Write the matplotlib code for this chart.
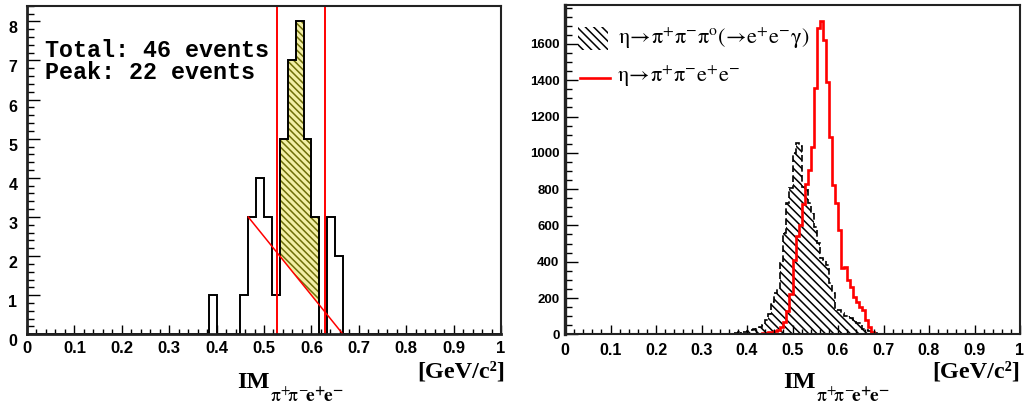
import numpy as np
import matplotlib
matplotlib.use("Agg")
import matplotlib.pyplot as plt
from matplotlib.patches import Rectangle
from matplotlib.lines import Line2D
from matplotlib.ticker import MultipleLocator

plt.rcParams['mathtext.fontset'] = 'stix'
plt.rcParams['font.family'] = ['Liberation Sans', 'DejaVu Sans']
plt.rcParams['hatch.linewidth'] = 1.1

# ---- data -------------------------------------------------------------
# left: measured pi+ pi- e+ e- invariant mass, 60 bins on [0, 1] GeV/c^2
left_counts = [0] * 23 + [1, 0, 0, 0, 1, 3, 4, 3, 1, 5, 7, 8, 5, 3, 0, 3, 2] + [0] * 20
peak_window = (0.528, 0.628)          # signal window (red vertical lines)
peak_bins = (32, 37)                  # bins counted as peak
bg_start = (0.4667, 3.0)              # linear background under the peak
bg_end = (0.6667, 0.0)
total_events = 46
peak_events = 22

# right: simulated shapes, 150 bins on [0, 1] GeV/c^2
dalitz_counts = [0] * 55 + [
    8, 5, 12, 10, 15, 20, 25, 30, 35, 40,
    50, 79, 110, 180, 230, 250, 392, 556, 722, 806,
    1000, 1052, 1040, 813, 800, 722, 666, 593, 503, 420,
    409, 380, 282, 227, 134, 134, 120, 100, 100, 90,
    80, 62, 60, 30, 24, 20, 8, 5, 3] + [0] * 46
signal_counts = [0] * 60 + [
    2, 2, 3, 3, 4, 5, 7, 10, 13, 18,
    25, 40, 70, 130, 220, 410, 540, 600, 720, 830,
    905, 1034, 1355, 1686, 1728, 1621, 1392, 1089, 823, 721,
    575, 364, 370, 299, 262, 207, 180, 152, 134, 79,
    42, 10, 3] + [0] * 47

x_ticks = [0, 0.1, 0.2, 0.3, 0.4, 0.5, 0.6, 0.7, 0.8, 0.9, 1]
x_ticklabels = ['0', '0.1', '0.2', '0.3', '0.4', '0.5', '0.6', '0.7', '0.8', '0.9', '1']
left_yticks = [0, 1, 2, 3, 4, 5, 6, 7, 8]
right_yticks = [0, 200, 400, 600, 800, 1000, 1200, 1400, 1600]

legend_labels = [r'$\mathrm{\eta\!\rightarrow\!\pi^{+}\pi^{-}\pi^{o}(\!\rightarrow\!e^{+}e^{-}\gamma)}$',
                 r'$\mathrm{\eta\!\rightarrow\!\pi^{+}\pi^{-}e^{+}e^{-}}$']
mass_label = 'IM'
mass_sub = r'$\mathrm{\pi^{+}\!\pi^{-}\!}\mathbf{e^{+}\!e^{-}}$'
unit_label = '[GeV/c²]'

W, H = 1028, 412


def fpx(x, y):
    return x / W, 1 - y / H


fig = plt.figure(figsize=(W / 100, H / 100), dpi=100)
ax1 = fig.add_axes([27 / W, 1 - 334.3 / H, 474 / W, 328.6 / H])
ax2 = fig.add_axes([565 / W, 1 - 334.3 / H, 455 / W, 329.3 / H])

# ---- left panel -------------------------------------------------------
edges_l = np.linspace(0, 1, len(left_counts) + 1)
counts_l = np.array(left_counts, dtype=float)

# hatched peak area above the linear background
i0, i1 = peak_bins
xs, top = [], []
for i in range(i0, i1):
    xs += [edges_l[i], edges_l[i + 1]]
    top += [counts_l[i], counts_l[i]]
xs = np.array(xs)
slope = (bg_end[1] - bg_start[1]) / (bg_end[0] - bg_start[0])
bottom = bg_start[1] + slope * (xs - bg_start[0])
ax1.fill_between(xs, bottom, top, facecolor='#f3efa6', edgecolor='#6f6f08',
                 hatch='\\\\\\\\\\', linewidth=0)

ax1.stairs(counts_l, edges_l, baseline=0, color='black', linewidth=1.4)
ax1.plot([bg_start[0], bg_end[0]], [bg_start[1], bg_end[1]], color='red', linewidth=1.1)
for xv in peak_window:
    ax1.axvline(xv, color='red', linewidth=1.4)

ax1.set_xlim(0, 1)
ax1.set_ylim(0, 1.05 * max(left_counts))
ax1.set_xticks(x_ticks)
ax1.set_xticklabels(x_ticklabels)
ax1.set_yticks(left_yticks)
ax1.xaxis.set_minor_locator(MultipleLocator(0.02))
ax1.yaxis.set_minor_locator(MultipleLocator(0.2))
ax1.tick_params(which='both', direction='in', top=False, right=False, width=1.0)
ax1.tick_params(axis='y', which='major', length=9.5, pad=7, labelsize=11.5)
ax1.tick_params(axis='y', which='minor', length=5)
ax1.tick_params(axis='x', which='major', length=6.5, pad=5, labelsize=12)
ax1.tick_params(axis='x', which='minor', length=3.5)
for lab in ax1.get_yticklabels():
    lab.set_verticalalignment('top')
for lab in ax1.get_xticklabels() + ax1.get_yticklabels():
    lab.set_fontweight('bold')
ax1.spines['left'].set_linewidth(2.0)
ax1.spines['bottom'].set_linewidth(2.0)
ax1.spines['top'].set_linewidth(1.5)
ax1.spines['right'].set_linewidth(1.5)
for s in ax1.spines.values():
    s.set_color('#222222')

fig.text(*fpx(45, 57), f'Total: {total_events} events', family='Liberation Mono',
         weight='bold', fontsize=16.8, va='baseline', ha='left')
fig.text(*fpx(45, 79), f'Peak: {peak_events} events', family='Liberation Mono',
         weight='bold', fontsize=16.8, va='baseline', ha='left')

# ---- right panel ------------------------------------------------------
edges_r = np.linspace(0, 1, len(signal_counts) + 1)
ax2.stairs(dalitz_counts, edges_r, baseline=0, fill=True, facecolor='white',
           edgecolor='black', hatch='\\\\\\\\', linewidth=1.2, linestyle=(0, (4, 2)))
ax2.stairs(signal_counts, edges_r, baseline=None, color='red', linewidth=1.9)

ax2.set_xlim(0, 1)
ax2.set_ylim(0, 1.05 * max(signal_counts))
ax2.set_xticks(x_ticks)
ax2.set_xticklabels(x_ticklabels)
ax2.set_yticks(right_yticks)
ax2.xaxis.set_minor_locator(MultipleLocator(0.02))
ax2.yaxis.set_minor_locator(MultipleLocator(50))
ax2.tick_params(which='both', direction='in', top=False, right=False, width=1.0)
ax2.tick_params(axis='y', which='major', length=9, pad=4, labelsize=9.5)
ax2.tick_params(axis='y', which='minor', length=5)
ax2.tick_params(axis='x', which='major', length=6.5, pad=6, labelsize=11.5)
ax2.tick_params(axis='x', which='minor', length=3.5)
for lab in ax2.get_xticklabels() + ax2.get_yticklabels():
    lab.set_fontweight('bold')
ax2.spines['left'].set_linewidth(2.4)
ax2.spines['bottom'].set_linewidth(1.5)
ax2.spines['top'].set_linewidth(1.5)
ax2.spines['right'].set_linewidth(1.5)
for s in ax2.spines.values():
    s.set_color('#222222')

# legend
fig.patches.append(Rectangle(fpx(578, 50), 30 / W, 23 / H, transform=fig.transFigure,
                             facecolor='white', edgecolor='black', hatch='\\\\\\\\',
                             linewidth=0))
fig.text(*fpx(618, 38), legend_labels[0], fontsize=16, va='center', ha='left')
fig.lines.append(Line2D([580 / W, 610 / W], [1 - 78 / H, 1 - 78 / H],
                        transform=fig.transFigure, color='red', linewidth=1.9))
fig.text(*fpx(617, 76), legend_labels[1], fontsize=16, va='center', ha='left')

# axis titles: "IM" with a lowered subscript, unit at the right end
for x_im, x_unit in [(237, 505), (783, 1020)]:
    fig.text(*fpx(x_im, 382), mass_label, family='Liberation Serif', weight='bold',
             fontsize=17.5, va='center', ha='left')
    fig.text(*fpx(x_im + 33, 396), mass_sub, fontsize=14, va='center', ha='left')
    fig.text(*fpx(x_unit, 372), unit_label, family='Liberation Serif', weight='bold',
             fontsize=17.5, va='center', ha='right')

fig.savefig('out.png', dpi=100)
